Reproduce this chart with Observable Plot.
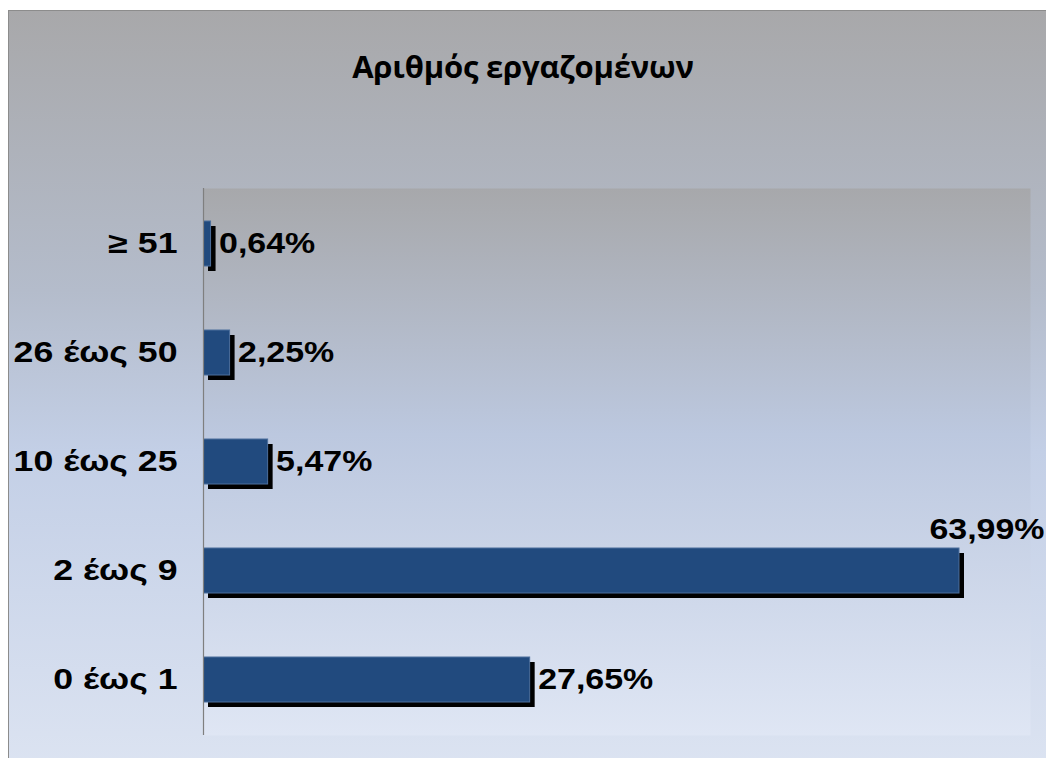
<!DOCTYPE html>
<html>
<head>
<meta charset="utf-8">
<script src="https://cdn.jsdelivr.net/npm/d3@7"></script>
<script src="https://cdn.jsdelivr.net/npm/@observablehq/plot@0.6"></script>
<style>
  html, body { margin: 0; padding: 0; background: #ffffff; }
  #wrap { position: relative; width: 1046px; height: 758px; overflow: hidden; background: #ffffff; }
  #frame {
    position: absolute; left: 8px; top: 10px; width: 1100px; height: 800px;
    border-left: 1px solid #8c8c8c; border-top: 1px solid #8c8c8c;
    background: linear-gradient(to bottom, #a8a8aa 0%, #b4bccb 35%, #c3cfe6 55%, #dfe6f3 100%);
  }
  #title {
    position: absolute; left: 0; top: 45px; width: 1046px; text-align: center;
    font-family: "Open Sans", sans-serif; font-weight: bold; font-size: 31px; color: #000;
    letter-spacing: -0.2px;
  }
  #chart { position: absolute; left: 0; top: 0; }
  #chart svg { overflow: visible; }
</style>
</head>
<body>
<svg width="0" height="0" style="position:absolute">
  <defs>
    <linearGradient id="plotgrad" x1="0" y1="0" x2="0" y2="1">
      <stop offset="0%" stop-color="#a7a8ab"/>
      <stop offset="45%" stop-color="#bcc8df"/>
      <stop offset="100%" stop-color="#dfe6f4"/>
    </linearGradient>
  </defs>
</svg>
<div id="wrap">
  <div id="frame"></div>
  <div id="title">Αριθμός εργαζομένων</div>
  <div id="chart"></div>
</div>
<script>
const categories = ["≥ 51", "26 έως 50", "10 έως 25", "2 έως 9", "0 έως 1"];
const values = [0.64, 2.25, 5.47, 63.99, 27.65];
const valueLabels = ["0,64%", "2,25%", "5,47%", "63,99%", "27,65%"];

const data = categories.map((c, i) => ({cat: c, value: values[i], label: valueLabels[i]}));
const fitsBeside = data.filter(d => d.value < 60);
const above = data.filter(d => d.value >= 60);

const labelFont = "Liberation Sans, Arial, sans-serif";

const plot = Plot.plot({
  width: 1046,
  height: 758,
  marginLeft: 203,
  marginTop: 188,
  marginRight: 16,
  marginBottom: 23,
  style: {background: "transparent", overflow: "visible"},
  x: {domain: [0, 70], axis: null},
  y: {domain: categories, paddingInner: 0.59, paddingOuter: 0.295, label: null},
  marks: [
    Plot.frame({fill: "url(#plotgrad)", stroke: "none"}),
    Plot.axisY({tickSize: 0, tickPadding: 26, fontSize: 29, fontWeight: "bold", fontFamily: labelFont, fill: "#000", label: null}),
    Plot.barX(data, {x: "value", y: "cat", fill: "#000000", dx: 5, dy: 5}),
    Plot.barX(data, {x: "value", y: "cat", fill: "#214a7e", stroke: "#4d6f9c", strokeWidth: 1, insetLeft: 0.5}),
    Plot.ruleX([0], {stroke: "#7f7f7f", strokeWidth: 1.2}),
    Plot.text(fitsBeside, {x: "value", y: "cat", text: "label", textAnchor: "start", dx: 8, fontSize: 29, fontWeight: "bold", fontFamily: labelFont, fill: "#000"}),
    Plot.text(above, {y: "cat", frameAnchor: "right", text: "label", textAnchor: "end", dx: 14, dy: -41, fontSize: 29, fontWeight: "bold", fontFamily: labelFont, fill: "#000"})
  ]
});
// widen the glyphs horizontally, as in the reference
d3.select(plot).selectAll("text").each(function() {
  const isAxis = this.closest("g[aria-label='y-axis tick label']") !== null;
  const t = this.getAttribute("transform") || "";
  this.setAttribute("transform", (t + (isAxis ? " scale(1.23,1)" : " scale(1.17,1)")).trim());
});
document.getElementById("chart").appendChild(plot);
</script>
</body>
</html>
